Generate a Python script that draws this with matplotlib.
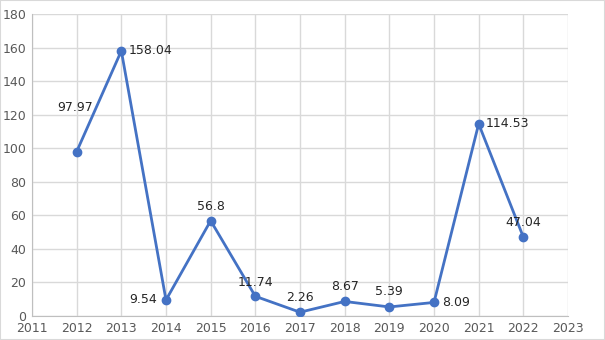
import matplotlib.pyplot as plt
from matplotlib.patches import Rectangle

years = [2012, 2013, 2014, 2015, 2016, 2017, 2018, 2019, 2020, 2021, 2022]
values = [97.97, 158.04, 9.54, 56.8, 11.74, 2.26, 8.67, 5.39, 8.09, 114.53, 47.04]
labels = ["97.97", "158.04", "9.54", "56.8", "11.74", "2.26", "8.67", "5.39", "8.09", "114.53", "47.04"]
# label placement: (dx, dy in pixels, ha)
offsets = [(-2, 44, "center"), (7, 0, "left"), (-9, 0, "right"), (0, 14, "center"),
           (0, 14, "center"), (0, 15, "center"), (0, 15, "center"), (0, 15, "center"),
           (8, 0, "left"), (7, 0, "left"), (0, 15, "center")]

fig = plt.figure(figsize=(6.05, 3.4), dpi=100)
ax = fig.add_axes([32/605, 24/340, 536/605, 302/340])
fig.patches.append(Rectangle((0, 0), 1, 1, transform=fig.transFigure,
                             fill=False, edgecolor="#d9d9d9", lw=1.5))

ax.plot(years, values, color="#4472C4", lw=2, marker="o", ms=6, zorder=3)
for x, y, lab, (dx, dy, ha) in zip(years, values, labels, offsets):
    ax.annotate(lab, (x, y), xytext=(dx, dy), textcoords="offset pixels",
                ha=ha, va="center", fontsize=9, color="#262626")

ax.set_xlim(2011, 2023)
ax.set_ylim(0, 180)
ax.set_xticks(range(2011, 2024))
ax.set_yticks(range(0, 181, 20))
ax.grid(True, color="#d9d9d9", lw=1)
ax.set_axisbelow(True)
for s in ["top", "right"]:
    ax.spines[s].set_visible(False)
for s in ["left", "bottom"]:
    ax.spines[s].set_color("#bfbfbf")
ax.tick_params(length=0, labelsize=9, labelcolor="#595959", pad=4)

fig.savefig("out.png", dpi=100)
